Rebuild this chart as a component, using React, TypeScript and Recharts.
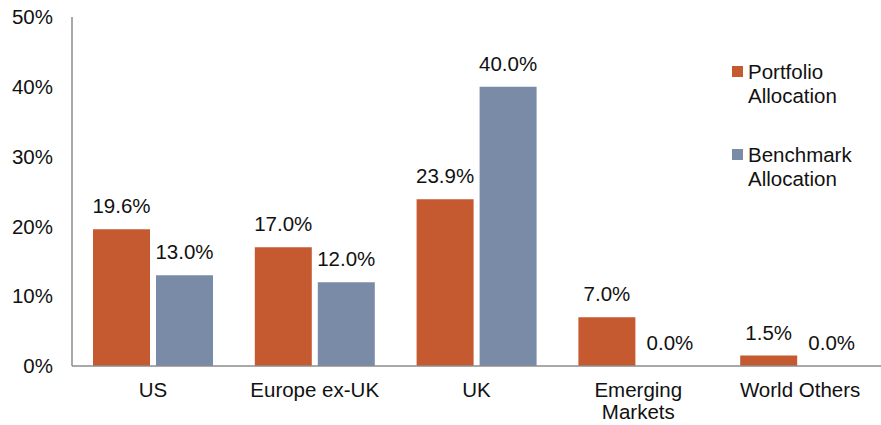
import React from 'react';
import { BarChart, Bar, XAxis, YAxis, Legend, Rectangle } from 'recharts';

const regions = ['US', 'Europe ex-UK', 'UK', 'Emerging Markets', 'World Others'];
const regionLines = [['US'], ['Europe ex-UK'], ['UK'], ['Emerging', 'Markets'], ['World Others']];
const portfolioAllocation = [19.6, 17.0, 23.9, 7.0, 1.5];
const benchmarkAllocation = [13.0, 12.0, 40.0, 0.0, 0.0];
const yTicks = [0, 10, 20, 30, 40, 50];

const PORTFOLIO_COLOR = '#C55A30';
const BENCHMARK_COLOR = '#7A8BA8';
const AXIS_COLOR = '#8C8C8C';
const TEXT_COLOR = '#111111';
const FONT = 'Arial, "Liberation Sans", sans-serif';
const FONT_SIZE = 20.5;

const data = regions.map((region, i) => ({
  region,
  portfolio: portfolioAllocation[i],
  benchmark: benchmarkAllocation[i],
}));

const legendItems = [
  { lines: ['Portfolio', 'Allocation'], color: PORTFOLIO_COLOR },
  { lines: ['Benchmark', 'Allocation'], color: BENCHMARK_COLOR },
];

const formatPct = (v: number) => `${Number(v).toFixed(1)}%`;

// Bar body plus its value label, so that zero-height bars still get a label
const LabeledBar = (props: any) => {
  const { x, y, width, height, fill, value } = props;
  const v = Array.isArray(value) ? value[1] : value;
  return (
    <g>
      {height > 0 && <Rectangle x={x} y={y} width={width} height={height} fill={fill} />}
      <text
        x={x + width / 2}
        y={y - 16}
        textAnchor="middle"
        fill={TEXT_COLOR}
        fontSize={FONT_SIZE}
        fontFamily={FONT}
      >
        {formatPct(v)}
      </text>
    </g>
  );
};

const RegionTick = (props: any) => {
  const { x, y, payload } = props;
  const lines = regionLines[payload.index] ?? [payload.value];
  return (
    <text x={x} y={y} textAnchor="middle" fill={TEXT_COLOR} fontSize={FONT_SIZE} fontFamily={FONT}>
      {lines.map((line: string, i: number) => (
        <tspan key={i} x={x} y={y + 23 + i * 22}>
          {line}
        </tspan>
      ))}
    </text>
  );
};

const AllocationLegend = () => (
  <div style={{ fontFamily: FONT, fontSize: FONT_SIZE, color: TEXT_COLOR, lineHeight: '24px' }}>
    {legendItems.map((item, i) => (
      <div key={i} style={{ position: 'relative', paddingLeft: 16, marginBottom: i === 0 ? 35 : 0 }}>
        <span
          style={{
            position: 'absolute',
            left: 0,
            top: 6,
            width: 11,
            height: 11,
            background: item.color,
          }}
        />
        {item.lines.map((l, j) => (
          <div key={j}>{l}</div>
        ))}
      </div>
    ))}
  </div>
);

export default function App() {
  return (
    <div style={{ position: 'absolute', left: 0, top: 0, width: 881, height: 425, background: '#fff' }}>
      <BarChart
        width={881}
        height={425}
        data={data}
        margin={{ top: 17, right: 0, bottom: 0, left: 0 }}
        barCategoryGap={21}
        barGap={6}
      >
        <XAxis
          dataKey="region"
          height={59}
          tickLine={false}
          axisLine={{ stroke: AXIS_COLOR, strokeWidth: 1.5 }}
          tick={<RegionTick />}
          interval={0}
        />
        <YAxis
          width={72}
          domain={[0, 50]}
          ticks={yTicks}
          tickFormatter={(v: number) => `${v}%`}
          tickLine={false}
          tickMargin={13}
          axisLine={{ stroke: AXIS_COLOR, strokeWidth: 1.5 }}
          tick={{ fill: TEXT_COLOR, fontSize: FONT_SIZE, fontFamily: FONT }}
          interval={0}
        />
        <Legend
          layout="horizontal"
          verticalAlign="middle"
          align="center"
          content={<AllocationLegend />}
          wrapperStyle={{ position: 'absolute', left: 732, top: 60, width: 150 }}
        />
        <Bar
          dataKey="portfolio"
          name="Portfolio Allocation"
          fill={PORTFOLIO_COLOR}
          shape={<LabeledBar />}
          isAnimationActive={false}
        />
        <Bar
          dataKey="benchmark"
          name="Benchmark Allocation"
          fill={BENCHMARK_COLOR}
          shape={<LabeledBar />}
          isAnimationActive={false}
        />
      </BarChart>
    </div>
  );
}
